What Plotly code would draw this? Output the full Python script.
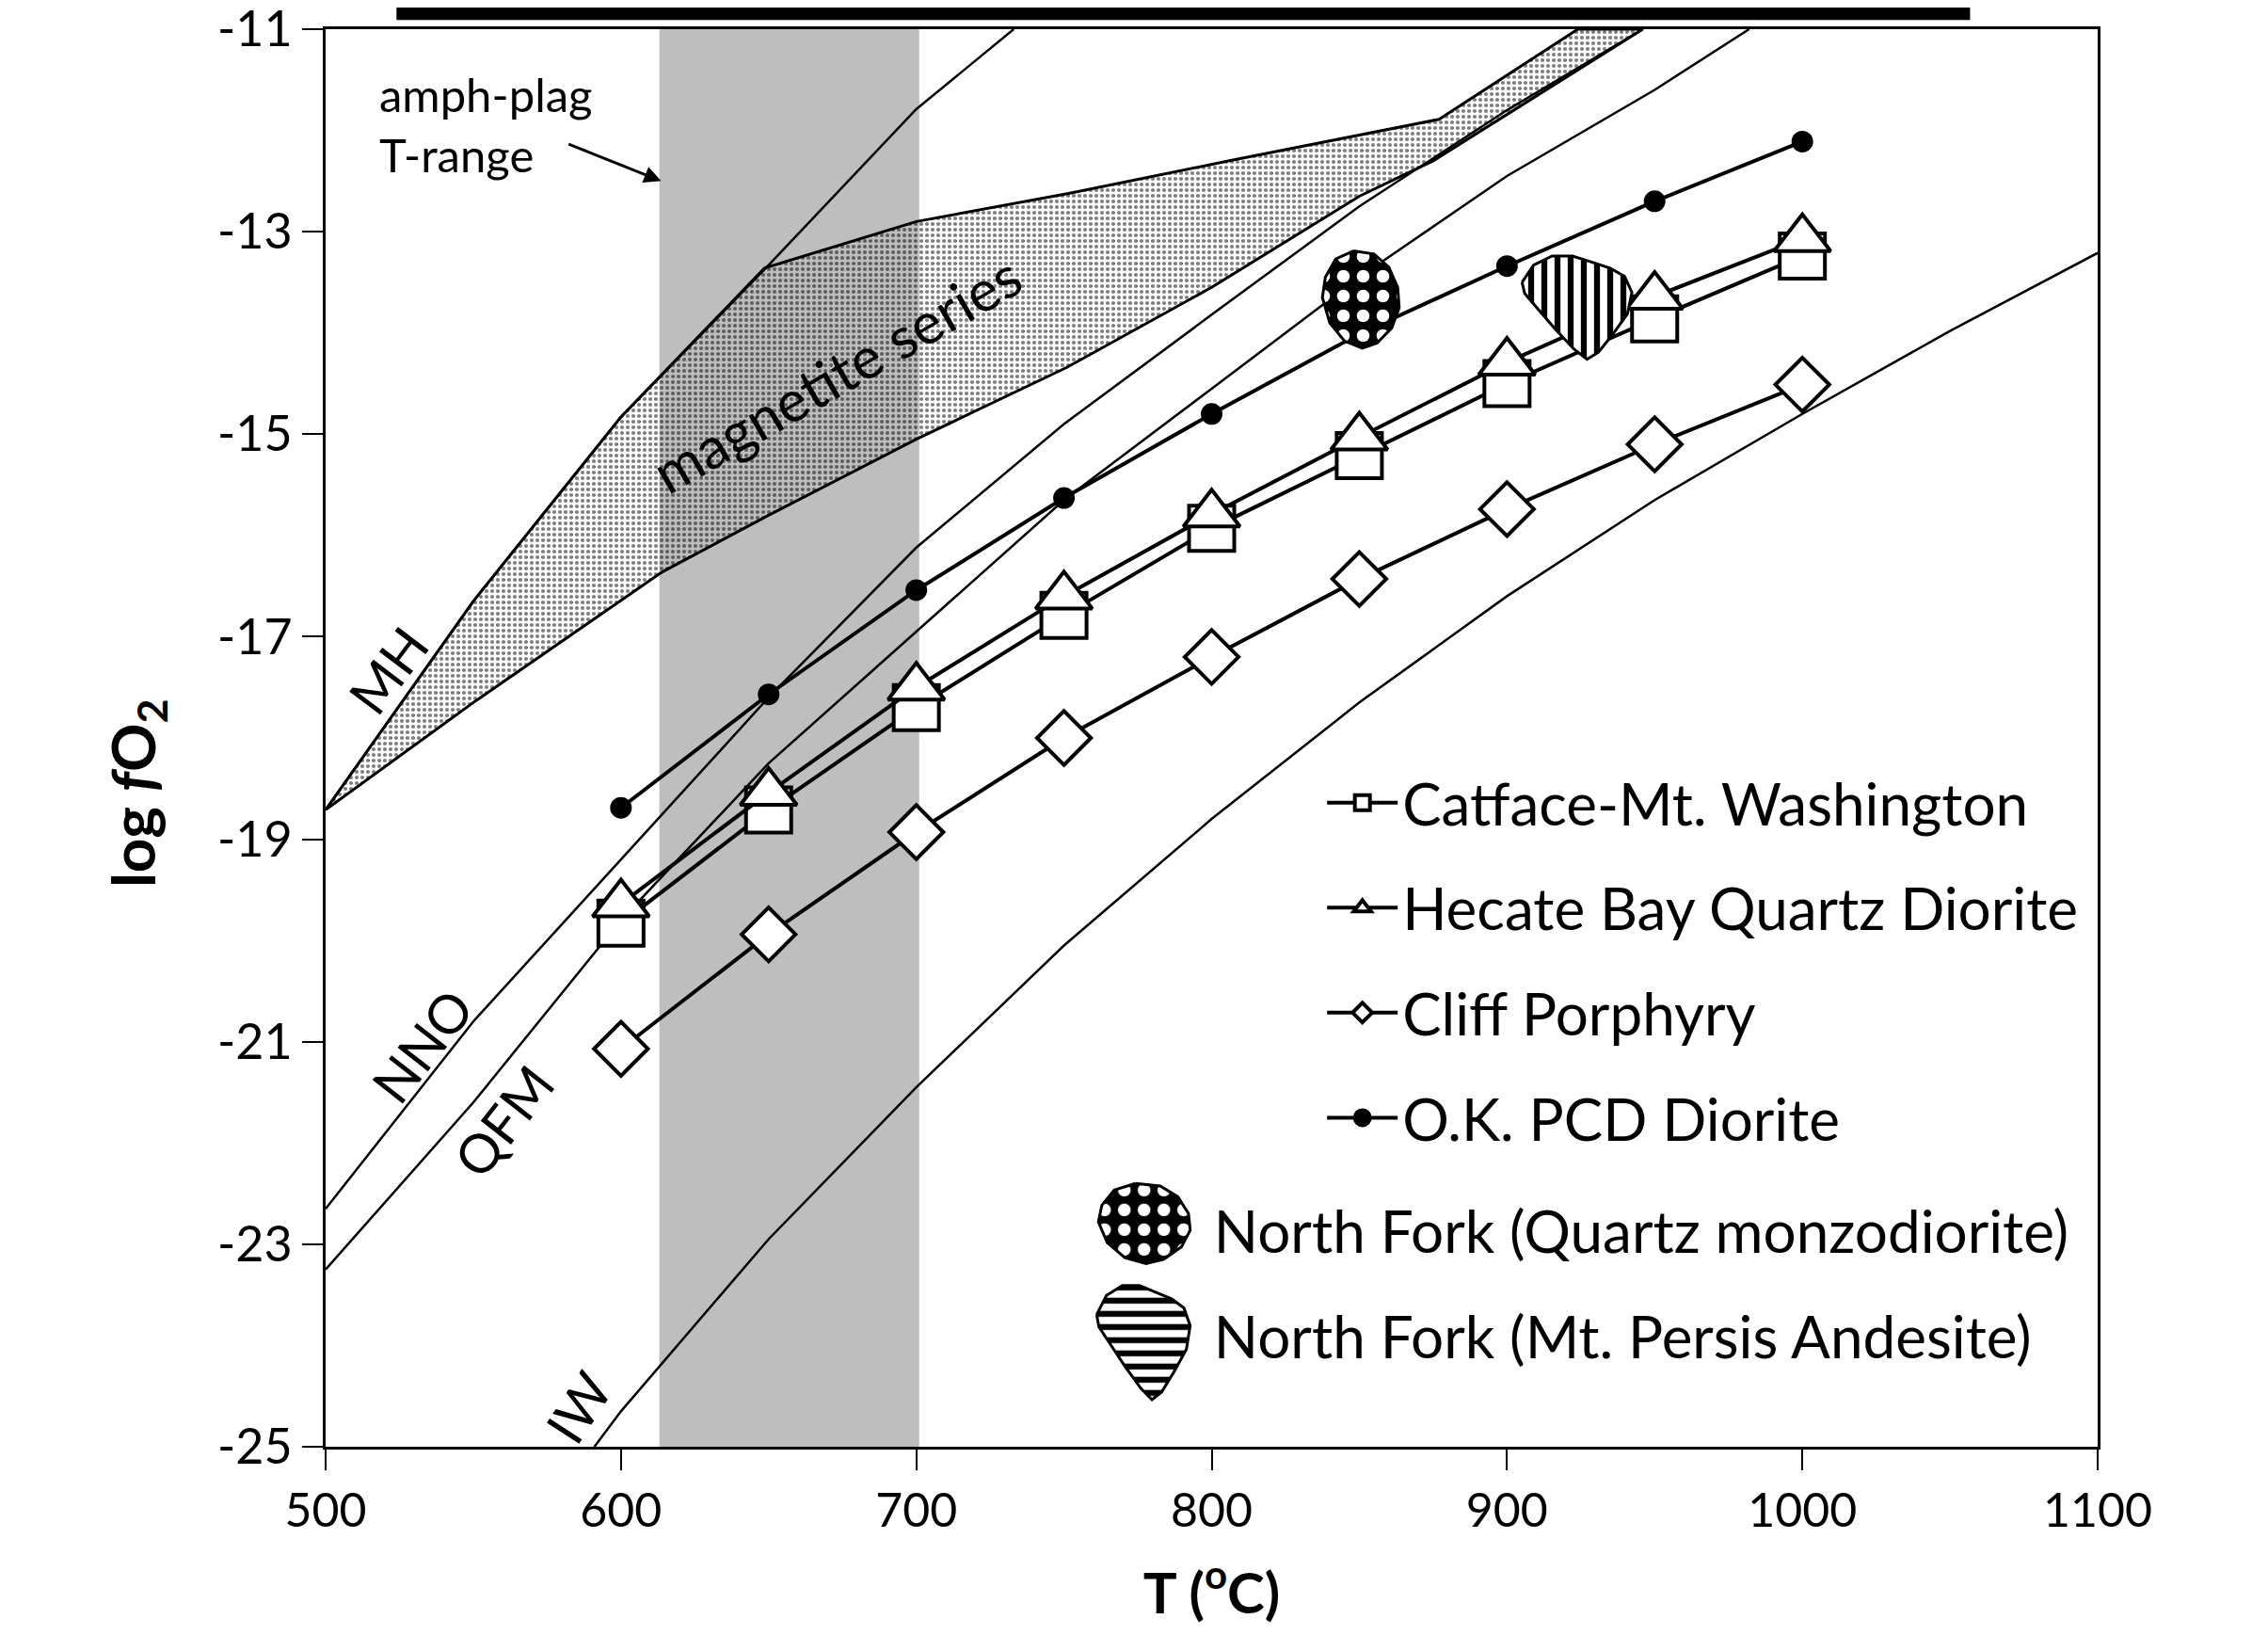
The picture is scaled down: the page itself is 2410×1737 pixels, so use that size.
import plotly.graph_objects as go

# ---------------- data ----------------
T_STEPS = [600, 650, 700, 750, 800, 850, 900, 950, 1000]
CATFACE = [-19.83, -18.71, -17.70, -16.79, -15.93, -15.21, -14.50, -13.86, -13.24]
HECATE = [-19.64, -18.54, -17.50, -16.60, -15.79, -15.03, -14.29, -13.64, -13.07]
CLIFF = [-21.07, -19.94, -18.93, -18.00, -17.20, -16.43, -15.74, -15.10, -14.51]
OKPCD = [-18.69, -17.57, -16.54, -15.63, -14.80, -14.01, -13.34, -12.70, -12.11]

MH_T = [500, 550, 600, 650, 700, 733]
MH_F = [-18.71, -16.65, -14.83, -13.33, -11.79, -11.00]

NNO_T = [500, 550, 600, 650, 700, 750, 800, 850, 900, 946]
NNO_F = [-22.65, -20.80, -19.20, -17.60, -16.12, -14.90, -13.82, -12.75, -11.80, -11.00]

QFM_T = [500, 550, 600, 650, 700, 750, 800, 850, 900, 950, 982]
QFM_F = [-23.25, -21.60, -19.80, -18.25, -16.95, -15.65, -14.55, -13.45, -12.45, -11.60, -11.00]

IW_T = [591, 600, 650, 700, 750, 800, 850, 900, 950, 1000, 1050, 1100]
IW_F = [-25.00, -24.65, -22.95, -21.45, -20.05, -18.80, -17.65, -16.60, -15.65, -14.80, -13.98, -13.21]

MAG_UP_T = [500, 550, 600, 648.6, 700, 752, 806, 877, 924]
MAG_UP_F = [-18.71, -16.65, -14.83, -13.36, -12.90, -12.62, -12.30, -11.89, -11.00]
MAG_LO_T = [946, 875, 850, 800, 751, 700, 650, 614, 550, 500]
MAG_LO_F = [-11.00, -12.30, -12.65, -13.55, -14.34, -15.05, -15.80, -16.36, -17.65, -18.71]

QMD_T = [848, 855, 860, 863, 863.5, 861, 856, 851, 845, 840, 837.5, 838.5, 842, 848]
QMD_F = [-13.19, -13.22, -13.35, -13.55, -13.75, -13.95, -14.10, -14.15, -14.08, -13.90, -13.65, -13.45, -13.27, -13.19]

PER_T = [905.1, 909.0, 915.3, 922.2, 928.6, 934.9, 939.8, 942.3, 940.8, 935.9, 931.0, 927.1, 922.7, 916.3, 910.4, 906.0, 905.1]
PER_F = [-13.50, -13.33, -13.24, -13.24, -13.30, -13.36, -13.44, -13.60, -13.81, -14.01, -14.19, -14.26, -14.16, -13.96, -13.76, -13.61, -13.50]

AMPH_PLAG_RANGE = [613, 701]

X_TICKS = [500, 600, 700, 800, 900, 1000, 1100]
Y_TICKS = [-25, -23, -21, -19, -17, -15, -13, -11]
Y_TICKTEXT = ["-25", "-23", "-21", "-19", "-17", "-15", "-13", "-11"]

SERIES_NAMES = ["Catface-Mt. Washington", "Hecate Bay Quartz Diorite",
                "Cliff Porphyry", "O.K. PCD Diorite"]
BLOB_NAMES = ["North Fork (Quartz monzodiorite)", "North Fork (Mt. Persis Andesite)"]

FONT = "Lato, 'Open Sans', sans-serif"

QMD_PATTERN = dict(shape=".", fgcolor="white", bgcolor="black", fgopacity=1, size=21, solidity=0.33)
PER_PATTERN_PLOT = dict(shape="|", fgcolor="black", bgcolor="white", fgopacity=1, size=14, solidity=0.45)
PER_PATTERN_LEG = dict(shape="-", fgcolor="black", bgcolor="white", fgopacity=1, size=14, solidity=0.45)

fig = go.Figure()

# magnetite series field
fig.add_trace(go.Scatter(
    x=MAG_UP_T + MAG_LO_T, y=MAG_UP_F + MAG_LO_F, mode="lines", fill="toself",
    line=dict(color="black", width=3),
    fillpattern=dict(shape=".", fgcolor="black", bgcolor="rgba(0,0,0,0)", size=6, solidity=0.38),
    showlegend=False, hoverinfo="skip"))

# buffer curves
for bt, bf in [(MH_T, MH_F), (NNO_T, NNO_F), (QFM_T, QFM_F), (IW_T, IW_F)]:
    fig.add_trace(go.Scatter(x=bt, y=bf, mode="lines", line=dict(color="black", width=2.5),
                             showlegend=False, hoverinfo="skip"))

# sample series
specs = [
    (CATFACE, "square", 48, "white"),
    (HECATE, "triangle-up", 52, "white"),
    (CLIFF, "diamond", 44, "white"),
    (OKPCD, "circle", 19, "black"),
]
for i, (vals, sym, sz, fc) in enumerate(specs):
    fig.add_trace(go.Scatter(
        x=T_STEPS, y=vals, mode="lines+markers", name=SERIES_NAMES[i],
        legendgroup="g%d" % i, legend="legend",
        line=dict(color="black", width=4),
        marker=dict(symbol=sym, size=sz, color=fc, line=dict(color="black", width=4))))

# North Fork fields (in the plot)
fig.add_trace(go.Scatter(
    x=QMD_T, y=QMD_F, mode="lines", fill="toself", showlegend=False, hoverinfo="skip",
    line=dict(color="black", width=3), fillpattern=QMD_PATTERN))
fig.add_trace(go.Scatter(
    x=PER_T, y=PER_F, mode="lines", fill="toself", showlegend=False, hoverinfo="skip",
    line=dict(color="black", width=3), fillpattern=PER_PATTERN_PLOT))

# legend icons for the North Fork fields (small inset axes)
fig.add_trace(go.Scatter(
    x=QMD_T, y=QMD_F, xaxis="x2", yaxis="y2", mode="lines", fill="toself", showlegend=False,
    hoverinfo="skip", line=dict(color="black", width=3), fillpattern=QMD_PATTERN))
fig.add_trace(go.Scatter(
    x=PER_T, y=PER_F, xaxis="x3", yaxis="y3", mode="lines", fill="toself", showlegend=False,
    hoverinfo="skip", line=dict(color="black", width=3), fillpattern=PER_PATTERN_LEG))

# legend text entries for the fields
for k, nm in enumerate(BLOB_NAMES):
    fig.add_trace(go.Scatter(x=[None], y=[None], mode="lines", line=dict(width=0, color="white"),
                             name=nm, legend="legend2", legendgroup="b%d" % k))

# amph-plag temperature range band
fig.add_shape(type="rect", xref="x", yref="paper", x0=AMPH_PLAG_RANGE[0], x1=AMPH_PLAG_RANGE[1],
              y0=0, y1=1, fillcolor="#bebebe", line=dict(width=0), layer="below")

# cropped title bar at top
fig.add_shape(type="rect", xref="paper", yref="paper", x0=0.040, x1=0.928, y0=1.0065, y1=1.02,
              fillcolor="black", line=dict(width=0))

ann_font = dict(family=FONT, size=57, color="black")
labels = [
    ("MH", 521, -17.33, -53),
    ("NNO", 532.5, -21.04, -52),
    ("QFM", 560.0, -21.78, -52),
    ("IW", 585.5, -24.61, -57),
]
for txt, x, y, ang in labels:
    fig.add_annotation(x=x, y=y, text=txt, textangle=ang, showarrow=False, font=ann_font)
fig.add_annotation(x=673.0, y=-14.40, text="magnetite series", textangle=-30, showarrow=False,
                   font=dict(family=FONT, size=61, color="black"))

fig.add_annotation(x=517.5, y=-11.64, text="amph-plag", xanchor="left", showarrow=False,
                   font=dict(family=FONT, size=49, color="black"))
fig.add_annotation(x=517.5, y=-12.24, text="T-range", xanchor="left", showarrow=False,
                   font=dict(family=FONT, size=49, color="black"))
fig.add_annotation(x=613.6, y=-12.5, ax=581.8, ay=-12.13, axref="x", ayref="y", xref="x", yref="y",
                   text="", showarrow=True, arrowhead=2, arrowsize=1.2, arrowwidth=3, arrowcolor="black")

# y-axis title (placed as in the reference, slightly below the axis middle)
fig.add_annotation(xref="paper", yref="paper", x=-0.131, y=0.461, text="<b>log <i>f</i>O<sub>2</sub></b>",
                   textangle=-90, showarrow=False, font=dict(family=FONT, size=64, color="black"))


def pad_range(vals, frac=0.04):
    lo, hi = min(vals), max(vals)
    d = (hi - lo) * frac
    return [lo - d, hi + d]


fig.update_layout(
    width=2410, height=1737,
    margin=dict(l=338, r=189, t=23, b=208),
    paper_bgcolor="white", plot_bgcolor="white",
    font=dict(family=FONT, color="black"),
    legend=dict(x=0.5625, y=0.4855, xanchor="left", yanchor="top", bgcolor="rgba(0,0,0,0)",
                font=dict(family=FONT, size=62, color="black"), tracegroupgap=28, itemwidth=75),
    legend2=dict(x=0.480, y=0.1838, xanchor="left", yanchor="top", bgcolor="rgba(0,0,0,0)",
                 font=dict(family=FONT, size=62, color="black"), tracegroupgap=28, itemwidth=30),
    xaxis=dict(range=[500, 1100], tickvals=X_TICKS, ticks="outside", automargin=False,
               ticklen=22, tickwidth=2, tickcolor="black", showline=True, linewidth=3,
               linecolor="black", mirror=True, showgrid=False, zeroline=False,
               ticklabeloverflow="allow", tickfont=dict(family=FONT, size=50),
               title=dict(text="<b>T (<sup>o</sup>C)</b>", font=dict(family=FONT, size=60), standoff=40)),
    yaxis=dict(range=[-25, -11], tickvals=Y_TICKS, ticktext=Y_TICKTEXT, automargin=False,
               ticks="outside", ticklen=22, tickwidth=2, tickcolor="black", showline=True,
               linewidth=3, linecolor="black", mirror=True, showgrid=False, zeroline=False,
               ticklabeloverflow="allow", tickfont=dict(family=FONT, size=52)),
    xaxis2=dict(domain=[0.434, 0.490], range=pad_range(QMD_T), visible=False, anchor="y2"),
    yaxis2=dict(domain=[0.127, 0.188], range=pad_range(QMD_F), visible=False, anchor="x2"),
    xaxis3=dict(domain=[0.433, 0.490], range=pad_range(PER_T), visible=False, anchor="y3"),
    yaxis3=dict(domain=[0.030, 0.117], range=pad_range(PER_F), visible=False, anchor="x3"),
)

fig.write_html("out.html")
